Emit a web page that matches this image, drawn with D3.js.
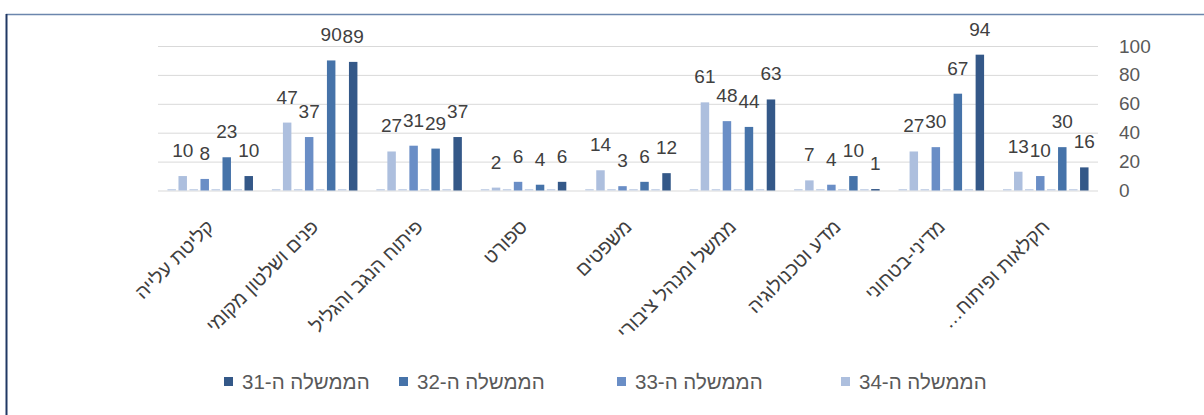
<!DOCTYPE html>
<html>
<head>
<meta charset="utf-8">
<script src="https://cdnjs.cloudflare.com/ajax/libs/d3/7.8.5/d3.min.js"></script>
<style>
  body { margin: 0; background: #fff; }
  svg { display: block; font-family: "Liberation Sans", Arial, "DejaVu Sans", sans-serif; }
</style>
</head>
<body>
<svg width="1204" height="415"></svg>
<script>
// categories, left to right as drawn
var categories = ["קליטת עלייה", "פנים ושלטון מקומי", "פיתוח הנגב והגליל", "ספורט", "משפטים",
                  "ממשל ומנהל ציבורי", "מדע וטכנולוגיה", "מדיני-בטחוני", "חקלאות ופיתוח…"];
var gov34 = [10, 47, 27, 2, 14, 61, 7, 27, 13];
var gov33 = [8, 37, 31, 6, 3, 48, 4, 30, 10];
var gov32 = [23, 90, 29, 4, 6, 44, 10, 67, 30];
var gov31 = [10, 89, 37, 6, 12, 63, 1, 94, 16];
var emptySeries = [0, 0, 0, 0, 0, 0, 0, 0, 0]; // blank series in the source chart
var seriesNames = ["הממשלה ה-31", "הממשלה ה-32", "הממשלה ה-33", "הממשלה ה-34"];
var yTicks = [0, 20, 40, 60, 80, 100];

var colors = { "הממשלה ה-34": "#adbfde", "הממשלה ה-33": "#6a8ec6", "הממשלה ה-32": "#4673a9", "הממשלה ה-31": "#345888" };

// slot order inside each group (8 slots, blank ones in between)
var slots = [
    { name: null, values: emptySeries },
    { name: "הממשלה ה-34", values: gov34 },
    { name: null, values: emptySeries },
    { name: "הממשלה ה-33", values: gov33 },
    { name: null, values: emptySeries },
    { name: "הממשלה ה-32", values: gov32 },
    { name: null, values: emptySeries },
    { name: "הממשלה ה-31", values: gov31 }
];

var svg = d3.select("svg");

// frame (only top and left edges are visible in the picture)
svg.append("line").attr("x1", 6).attr("x2", 1204).attr("y1", 14.5).attr("y2", 14.5)
    .attr("stroke", "#6b86ad").attr("stroke-width", 1.5);
svg.append("line").attr("x1", 6.5).attr("x2", 6.5).attr("y1", 14).attr("y2", 415)
    .attr("stroke", "#203864").attr("stroke-width", 2);

var x0 = d3.scaleBand().domain(d3.range(categories.length)).range([158, 1098]);
var x1 = d3.scaleBand().domain(d3.range(slots.length))
    .range([x0.bandwidth() * 0.0785, x0.bandwidth() * 0.9215])
    .paddingInner(0.23).paddingOuter(0.115);
var y = d3.scaleLinear().domain([0, 100]).range([190.5, 46]);

// gridlines + right axis labels
var yAxis = svg.append("g").attr("transform", "translate(1098,0)")
    .call(d3.axisRight(y).tickValues(yTicks).tickSize(-940).tickPadding(21).tickFormat(d3.format("d")));
yAxis.select(".domain").remove();
yAxis.selectAll(".tick line").attr("stroke", "#d9d9d9").attr("stroke-width", 1);
yAxis.selectAll(".tick text").attr("fill", "#595959").attr("font-size", 19)
    .attr("text-anchor", "start").attr("font-family", "Liberation Sans, Arial, sans-serif");

// bars
var groups = svg.append("g").selectAll("g").data(categories).enter().append("g")
    .attr("transform", (d, i) => "translate(" + x0(i) + ",0)");

groups.each(function (c, ci) {
    var g = d3.select(this);
    slots.forEach(function (s, si) {
        var v = s.values[ci];
        if (s.name === null) {
            g.append("rect")
                .attr("x", x1(si)).attr("width", x1.bandwidth())
                .attr("y", y(v) - 1.5).attr("height", 1.5)
                .attr("fill", "#c8d4e8");
            return;
        }
        g.append("rect")
            .attr("x", x1(si)).attr("width", x1.bandwidth())
            .attr("y", y(v)).attr("height", y(0) - y(v))
            .attr("fill", colors[s.name]);
        g.append("text")
            .attr("x", x1(si) + x1.bandwidth() / 2)
            .attr("y", y(v) - 19)
            .attr("text-anchor", "middle")
            .attr("font-size", 19)
            .attr("fill", "#404040")
            .text(v);
    });
});

// category labels, rotated
svg.append("g").selectAll("text").data(categories).enter().append("text")
    .attr("transform", (d, i) => "translate(" + (x0(i) + x0.bandwidth() / 2 + 5) + ",228) rotate(-45)")
    .attr("text-anchor", "end")
    .attr("font-size", 19.5)
    .attr("fill", "#404040")
    .text(d => d + "\u200F");

// legend
var legendX = [224, 399, 617, 841];
var legend = svg.append("g").selectAll("g").data(seriesNames).enter().append("g")
    .attr("transform", (d, i) => "translate(" + legendX[i] + ",0)");
legend.append("rect").attr("x", 0).attr("y", 377).attr("width", 9).attr("height", 9)
    .attr("fill", d => colors[d]);
legend.append("text").attr("x", 18).attr("y", 389)
    .attr("font-size", 20.5).attr("fill", "#595959")
    .attr("text-anchor", "start")
    .text(d => d);
</script>
</body>
</html>
